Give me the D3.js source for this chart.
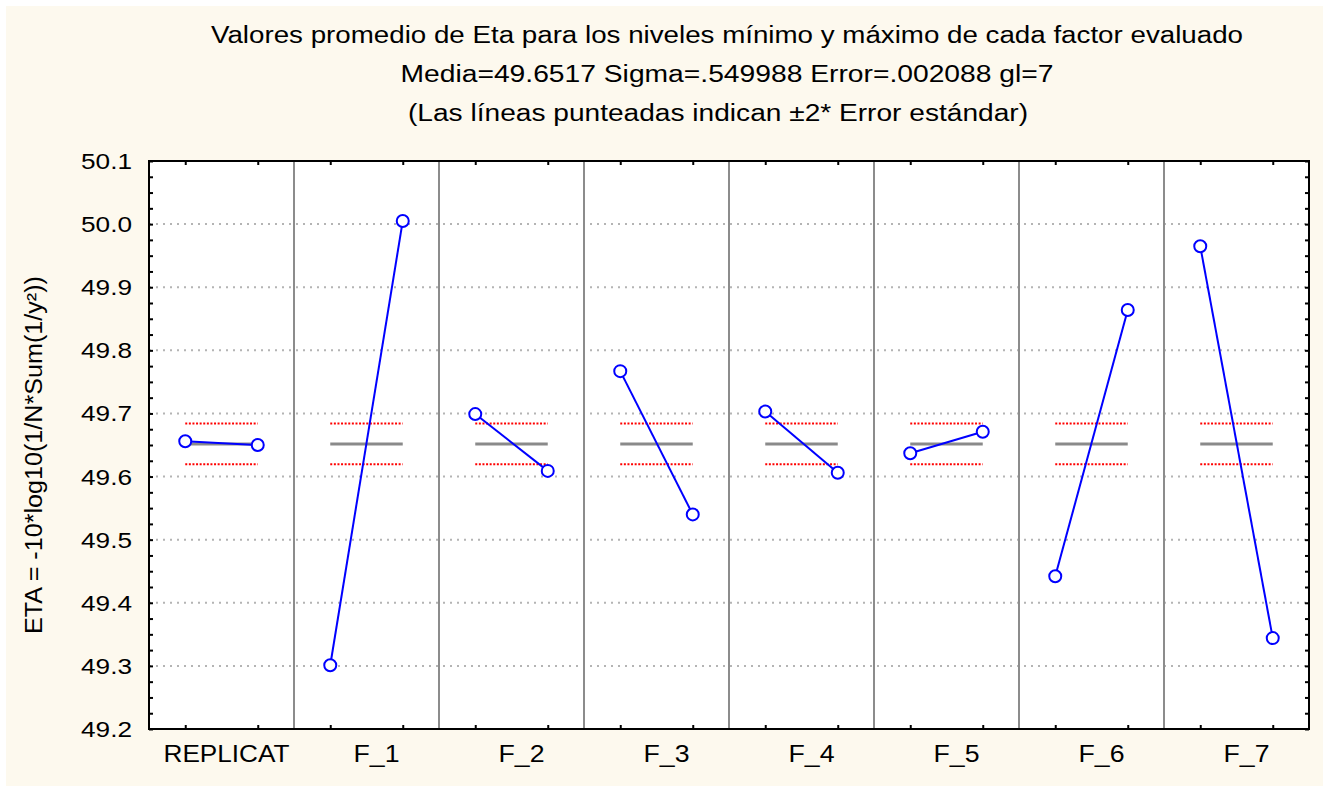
<!DOCTYPE html>
<html>
<head>
<meta charset="utf-8">
<script src="https://cdn.jsdelivr.net/npm/d3@7"></script>
<style>
  html, body { margin: 0; padding: 0; background: #ffffff; }
  svg { display: block; }
  text { font-family: "Liberation Sans", Arial, sans-serif; fill: #000; }
</style>
</head>
<body>
<svg id="chart" width="1329" height="787"></svg>
<script>
// ---- Data ----
const categories = ["REPLICAT", "F_1", "F_2", "F_3", "F_4", "F_5", "F_6", "F_7"];
const levels = ["min", "max"];
const minLevelMeans = [49.656, 49.301, 49.699, 49.767, 49.703, 49.637, 49.442, 49.965];
const maxLevelMeans = [49.650, 50.005, 49.609, 49.540, 49.606, 49.671, 49.864, 49.344];
const grandMean = 49.6517;
const twoSE = 0.0323;
const yTickValues = [49.2, 49.3, 49.4, 49.5, 49.6, 49.7, 49.8, 49.9, 50.0, 50.1];
const titleLines = [
  "Valores promedio de Eta para los niveles mínimo y máximo de cada factor evaluado",
  "Media=49.6517 Sigma=.549988 Error=.002088 gl=7",
  "(Las líneas punteadas indican ±2* Error estándar)"
];
const yLabel = "ETA = -10*log10(1/N*Sum(1/y²))";

// ---- Layout ----
const W = 1329, H = 787;
const plot = { left: 149, right: 1309, top: 161, bottom: 729 };

const svg = d3.select("#chart");
svg.append("rect").attr("x", 0).attr("y", 0).attr("width", W).attr("height", H).attr("fill", "#ffffff");
svg.append("rect").attr("x", 6).attr("y", 6).attr("width", W - 12).attr("height", H - 7).attr("fill", "#fdf9ee");
svg.append("rect").attr("x", plot.left).attr("y", plot.top)
  .attr("width", plot.right - plot.left).attr("height", plot.bottom - plot.top).attr("fill", "#ffffff");

const x = d3.scaleBand().domain(categories).range([plot.left, plot.right]).padding(0);
const bw = x.bandwidth();
const sub = d3.scalePoint().domain(levels).range([bw * 0.25, bw * 0.75]);
const y = d3.scaleLinear().domain([49.2, 50.1]).range([plot.bottom, plot.top]);

// horizontal dotted grid
const gridVals = yTickValues.filter(v => v > 49.21 && v < 50.09);
svg.append("g").selectAll("line").data(gridVals).join("line")
  .attr("x1", plot.left).attr("x2", plot.right)
  .attr("y1", d => y(d)).attr("y2", d => y(d))
  .attr("stroke", "#b4b4b4").attr("stroke-width", 2).attr("stroke-dasharray", "2,5");

// vertical separators
svg.append("g").selectAll("line").data(categories.slice(1)).join("line")
  .attr("x1", d => x(d)).attr("x2", d => x(d))
  .attr("y1", plot.top).attr("y2", plot.bottom)
  .attr("stroke", "#8c8c8c").attr("stroke-width", 2);

// panels
const data = categories.map((c, i) => ({ cat: c, vals: [minLevelMeans[i], maxLevelMeans[i]] }));
const panels = svg.append("g").selectAll("g").data(data).join("g")
  .attr("transform", d => `translate(${x(d.cat)},0)`);

// red dotted +/- 2 SE
panels.selectAll("line.se").data([grandMean + twoSE, grandMean - twoSE]).join("line")
  .attr("class", "se")
  .attr("x1", sub("min")).attr("x2", sub("max"))
  .attr("y1", d => y(d)).attr("y2", d => y(d))
  .attr("stroke", "#ff0000").attr("stroke-width", 2).attr("stroke-dasharray", "2,1.6");

// grand mean line
panels.append("line")
  .attr("x1", sub("min")).attr("x2", sub("max"))
  .attr("y1", y(grandMean)).attr("y2", y(grandMean))
  .attr("stroke", "#8a8a8a").attr("stroke-width", 3);

// blue lines
const line = d3.line().x((v, j) => sub(levels[j])).y(v => y(v));
panels.append("path")
  .attr("d", d => line(d.vals))
  .attr("fill", "none").attr("stroke", "#0000ff").attr("stroke-width", 2);

// markers
panels.selectAll("circle").data(d => d.vals).join("circle")
  .attr("cx", (v, j) => sub(levels[j])).attr("cy", v => y(v)).attr("r", 6)
  .attr("fill", "#ffffff").attr("stroke", "#0000ff").attr("stroke-width", 2);

// axes ticks (inside)
const minorTicks = d3.range(0, 37).map(i => 49.2 + i * 0.025);
const pointTicks = [];
categories.forEach(c => levels.forEach(l => pointTicks.push(x(c) + sub(l))));
const xt = d3.scaleLinear().domain([0, W]).range([0, W]);

function styleAxis(g) {
  g.select(".domain").remove();
  g.selectAll(".tick text").remove();
  g.selectAll(".tick line").attr("stroke", "#000").attr("stroke-width", 2);
}
svg.append("g").attr("transform", `translate(${plot.left},0)`)
  .call(d3.axisRight(y).tickValues(minorTicks).tickSize(4)).call(styleAxis);
svg.append("g").attr("transform", `translate(${plot.right},0)`)
  .call(d3.axisLeft(y).tickValues(minorTicks).tickSize(4)).call(styleAxis);
svg.append("g").attr("transform", `translate(0,${plot.top})`)
  .call(d3.axisBottom(xt).tickValues(pointTicks).tickSize(4)).call(styleAxis);
svg.append("g").attr("transform", `translate(0,${plot.bottom})`)
  .call(d3.axisTop(xt).tickValues(pointTicks).tickSize(4)).call(styleAxis);

// frame
svg.append("rect").attr("x", plot.left).attr("y", plot.top)
  .attr("width", plot.right - plot.left).attr("height", plot.bottom - plot.top)
  .attr("fill", "none").attr("stroke", "#000").attr("stroke-width", 2);

// y tick labels
svg.append("g").selectAll("text").data(yTickValues).join("text")
  .attr("x", 132).attr("y", d => y(d) + 8)
  .attr("text-anchor", "end").attr("font-size", 22)
  .attr("textLength", 51).attr("lengthAdjust", "spacingAndGlyphs")
  .text(d => d3.format(".1f")(d));

// category labels
svg.append("g").selectAll("text").data(categories).join("text")
  .attr("x", d => x(d) + bw / 2 + (d === "REPLICAT" ? 5 : 10)).attr("y", 762)
  .attr("text-anchor", "middle").attr("font-size", 23)
  .attr("textLength", d => d === "REPLICAT" ? 126 : 46).attr("lengthAdjust", "spacingAndGlyphs")
  .text(d => d);

// titles
const titleWidths = [1032, 653, 620];
const titleCenters = [727, 727, 718];
const titleBase = [43, 82, 121];
svg.append("g").selectAll("text").data(titleLines).join("text")
  .attr("x", (d, i) => titleCenters[i]).attr("y", (d, i) => titleBase[i])
  .attr("text-anchor", "middle").attr("font-size", 23)
  .attr("textLength", (d, i) => titleWidths[i]).attr("lengthAdjust", "spacingAndGlyphs")
  .text(d => d);

// y axis label
svg.append("text")
  .attr("transform", `translate(42,455) rotate(-90)`)
  .attr("text-anchor", "middle").attr("font-size", 23)
  .attr("textLength", 358).attr("lengthAdjust", "spacingAndGlyphs")
  .text(yLabel);
</script>
</body>
</html>
